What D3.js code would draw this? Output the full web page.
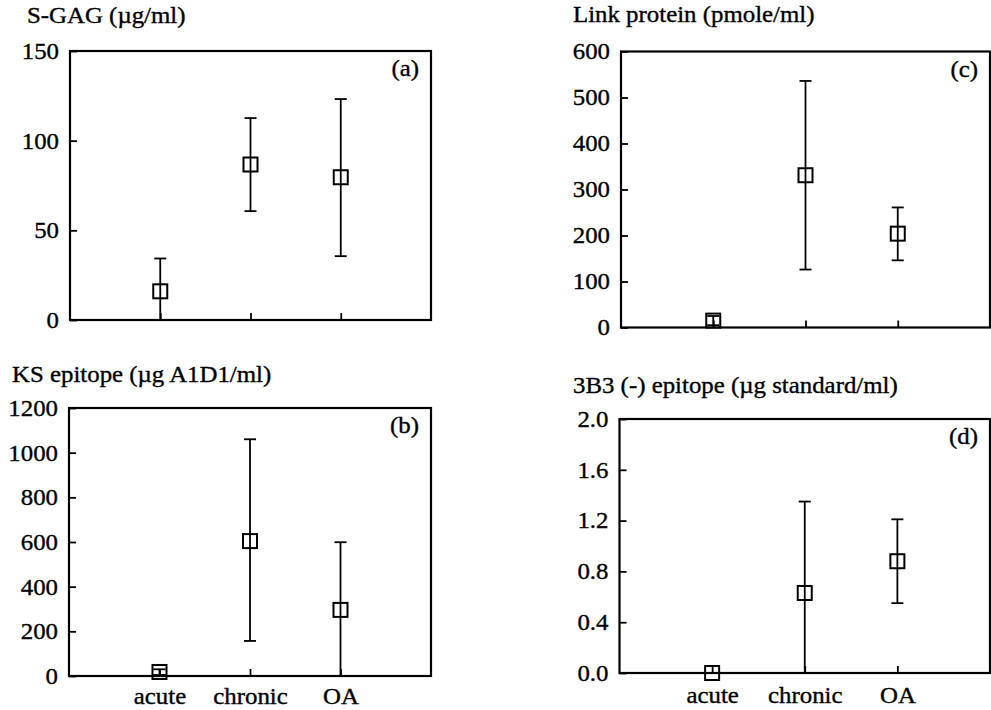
<!DOCTYPE html>
<html>
<head>
<meta charset="utf-8">
<script src="https://cdn.jsdelivr.net/npm/d3@7"></script>
<style>
  html, body { margin: 0; padding: 0; background: #fff; }
  svg text { font-family: "Liberation Serif", "Times New Roman", serif; fill: #000; stroke: #000; stroke-width: 0.35px; }
</style>
</head>
<body>
<svg id="chart" width="991" height="710"></svg>
<script>
// ---------------- data ----------------
const categories = ["acute", "chronic", "OA"];

const titleA = "S-GAG (\u00B5g/ml)";
const titleB = "KS epitope (\u00B5g A1D1/ml)";
const titleC = "Link protein (pmole/ml)";
const titleD = "3B3 (-) epitope (\u00B5g standard/ml)";

const ticksA = [0, 50, 100, 150];
const ticksB = [0, 200, 400, 600, 800, 1000, 1200];
const ticksC = [0, 100, 200, 300, 400, 500, 600];
const ticksD = [0, 0.4, 0.8, 1.2, 1.6, 2.0];

const sgagMean = [16, 86.7, 79.6];
const sgagLow  = [0, 60.7, 35.6];
const sgagHigh = [34.3, 112.6, 123.2];

const ksMean = [18, 604, 296];
const ksLow  = [5, 157, 0];
const ksHigh = [30, 1060, 599];

const linkMean = [15, 331, 204];
const linkLow  = [5, 126, 146];
const linkHigh = [25, 536, 261];

const b3Mean = [0, 0.63, 0.88];
const b3Low  = [null, 0, 0.55];
const b3High = [null, 1.35, 1.21];

// ---------------- layout ----------------
const svg = d3.select("#chart");
const FONT = 23, STRETCH = 1.08;

function stretch(sel) {
  sel.each(function () {
    const len = this.getComputedTextLength();
    if (len > 0) {
      d3.select(this).attr("textLength", len * STRETCH).attr("lengthAdjust", "spacingAndGlyphs");
    }
  });
}

const panels = [
  { id: "a", title: titleA, tx: 27, ty: 23, left: 70, right: 431, top: 51, bottom: 320,
    ticks: ticksA, fmt: d3.format("d"), mean: sgagMean, low: sgagLow, high: sgagHigh, labels: false, pad: 13 },
  { id: "b", title: titleB, tx: 12, ty: 382, left: 69, right: 431, top: 408, bottom: 676,
    ticks: ticksB, fmt: d3.format("d"), mean: ksMean, low: ksLow, high: ksHigh, labels: true, pad: 12 },
  { id: "c", title: titleC, tx: 573, ty: 22, left: 621, right: 990, top: 51.5, bottom: 327.5,
    ticks: ticksC, fmt: d3.format("d"), mean: linkMean, low: linkLow, high: linkHigh, labels: false, pad: 13 },
  { id: "d", title: titleD, tx: 573, ty: 393, left: 619.5, right: 990, top: 419, bottom: 673,
    ticks: ticksD, fmt: d3.format(".1f"), mean: b3Mean, low: b3Low, high: b3High, labels: true, pad: 14 }
];

panels.forEach(p => {
  const x = d3.scaleLinear().domain([0, categories.length + 1]).range([p.left, p.right]);
  const y = d3.scaleLinear().domain([p.ticks[0], p.ticks[p.ticks.length - 1]]).range([p.bottom, p.top]);
  const g = svg.append("g");

  // title
  g.append("text").attr("x", p.tx).attr("y", p.ty)
    .attr("font-size", FONT).text(p.title).call(stretch);

  // y axis
  const ya = g.append("g").attr("transform", `translate(${p.left},0)`)
    .call(d3.axisLeft(y).tickValues(p.ticks).tickFormat(p.fmt)
      .tickSizeInner(-7).tickSizeOuter(0).tickPadding(11));
  ya.select(".domain").remove();
  ya.selectAll(".tick line").attr("stroke", "#000").attr("stroke-width", 1.8);
  ya.selectAll(".tick text").attr("font-size", FONT).attr("font-family", null).call(stretch);

  // x axis
  const xa = g.append("g").attr("transform", `translate(0,${p.bottom})`)
    .call(d3.axisBottom(x).tickValues(categories.map((c, i) => i + 1))
      .tickFormat((d) => p.labels ? categories[d - 1] : "")
      .tickSizeInner(-7).tickSizeOuter(0).tickPadding(p.pad));
  xa.select(".domain").remove();
  xa.selectAll(".tick line").attr("stroke", "#000").attr("stroke-width", 1.8);
  xa.selectAll(".tick text").attr("font-size", FONT).attr("font-family", null).call(stretch);

  // frame
  g.append("rect").attr("x", p.left).attr("y", p.top)
    .attr("width", p.right - p.left).attr("height", p.bottom - p.top)
    .attr("fill", "none").attr("stroke", "#000").attr("stroke-width", 2.2);

  // panel label
  g.append("text").attr("x", p.right - 12).attr("y", p.top + 25)
    .attr("text-anchor", "end").attr("font-size", FONT).text(`(${p.id})`).call(stretch);

  // error bars
  const data = categories.map((c, i) => ({ i: i + 1, m: p.mean[i], lo: p.low[i], hi: p.high[i] }));
  const eb = data.filter(d => d.lo !== null && d.hi !== null);
  const capW = 6;
  g.selectAll(".ev").data(eb).enter().append("line")
    .attr("x1", d => x(d.i)).attr("x2", d => x(d.i))
    .attr("y1", d => y(d.lo)).attr("y2", d => y(d.hi))
    .attr("stroke", "#000").attr("stroke-width", 1.8);
  g.selectAll(".ch").data(eb).enter().append("line")
    .attr("x1", d => x(d.i) - capW).attr("x2", d => x(d.i) + capW)
    .attr("y1", d => y(d.hi)).attr("y2", d => y(d.hi))
    .attr("stroke", "#000").attr("stroke-width", 1.8);
  g.selectAll(".cl").data(eb).enter().append("line")
    .attr("x1", d => x(d.i) - capW).attr("x2", d => x(d.i) + capW)
    .attr("y1", d => y(d.lo)).attr("y2", d => y(d.lo))
    .attr("stroke", "#000").attr("stroke-width", 1.8);

  // square markers (hollow; error bar visible through)
  const s = 14;
  g.selectAll(".sq").data(data).enter().append("rect")
    .attr("x", d => x(d.i) - s / 2).attr("y", d => y(d.m) - s / 2)
    .attr("width", s).attr("height", s)
    .attr("fill", "none").attr("stroke", "#000").attr("stroke-width", 2);
});
</script>
</body>
</html>
